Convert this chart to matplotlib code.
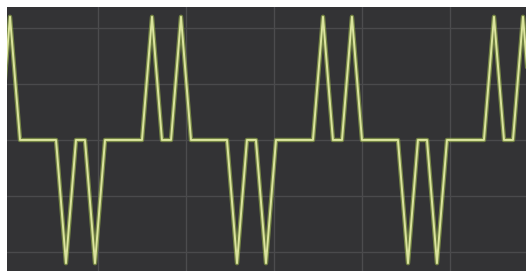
import numpy as np
import matplotlib
matplotlib.use("Agg")
import matplotlib.pyplot as plt

# knot points of the trace (x in grid divisions, y in grid divisions)
t = [-0.114, 0.0, 0.114, 0.523, 0.636, 0.75, 0.852, 0.966, 1.08,
     1.5, 1.614, 1.727, 1.83, 1.943, 2.057,
     2.466, 2.58, 2.693, 2.795, 2.909, 3.023,
     3.443, 3.557, 3.67, 3.773, 3.886, 4.0,
     4.409, 4.523, 4.636, 4.739, 4.852, 4.966,
     5.386, 5.5, 5.614, 5.716, 5.83, 5.943]
v = [0, 2.2, 0, 0, -2.2, 0, 0, -2.2, 0,
     0, 2.2, 0, 0, 2.2, 0,
     0, -2.2, 0, 0, -2.2, 0,
     0, 2.2, 0, 0, 2.2, 0,
     0, -2.2, 0, 0, -2.2, 0,
     0, 2.2, 0, 0, 2.2, 0]

x_grid = [1, 2, 3, 4, 5]
y_grid = [-2, -1, 0, 1, 2]

fig = plt.figure(figsize=(5.26, 2.71), dpi=100)
fig.patch.set_facecolor("white")
ax = fig.add_axes([7 / 526, 0, 1 - 7 / 526, 1 - 7 / 271])
ax.set_facecolor("#333335")

for g in x_grid:
    ax.axvline(g, color="#4c4c4e", lw=1, zorder=1)
for g in y_grid:
    ax.axhline(g, color="#4a4a4c", lw=1, zorder=1)

ax.plot(t, v, color="#9db84e", lw=3.2, alpha=0.6, solid_joinstyle="round", zorder=2)
ax.plot(t, v, color="#dae39c", lw=1.4, solid_joinstyle="round", zorder=3)

ax.set_xlim(-0.034, 5.864)
ax.set_ylim(-2.34, 2.375)
ax.set_xticks([])
ax.set_yticks([])
for s in ax.spines.values():
    s.set_visible(False)

fig.savefig("out.png", dpi=100, facecolor=fig.get_facecolor())
